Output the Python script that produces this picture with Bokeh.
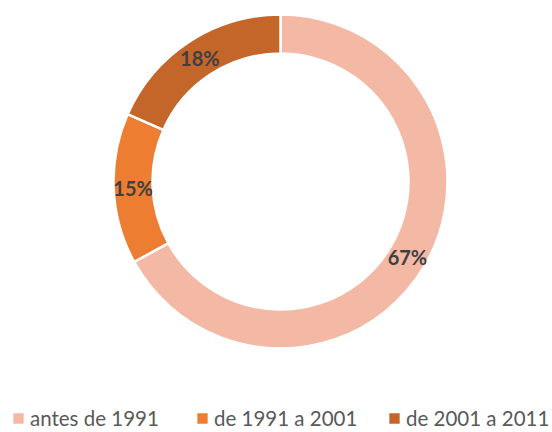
import math
from bokeh.plotting import figure
from bokeh.models import ColumnDataSource, Range1d, Legend, LegendItem
from bokeh.core.properties import value
from bokeh.embed import file_html
from bokeh.resources import INLINE

# ---- data ----
categories = ["antes de 1991", "de 1991 a 2001", "de 2001 a 2011"]
shares = [67.0, 14.6, 18.4]
colors = ["#F4B9A5", "#ED7D31", "#C4652A"]

# ---- layout ----
W, H = 552, 432
cx, cy = 280, 251
r_in, r_out = 128, 167
legend_x = [10, 194, 386]

total = sum(shares)
starts, ends, lx, ly, labels = [], [], [], [], []
cum = 0.0
for s in shares:
    a0 = math.pi / 2 - 2 * math.pi * (cum + s) / total
    a1 = math.pi / 2 - 2 * math.pi * cum / total
    starts.append(a0)
    ends.append(a1)
    mid = (a0 + a1) / 2
    rm = (r_in + r_out) / 2
    lx.append(cx + rm * math.cos(mid))
    ly.append(cy + rm * math.sin(mid))
    labels.append(f"{round(s / total * 100):.0f}%")
    cum += s

src = ColumnDataSource(dict(cat=categories, start=starts, end=ends, color=colors,
                            lx=lx, ly=ly, label=labels))

p = figure(width=W, height=H, x_range=Range1d(0, W), y_range=Range1d(0, H),
           output_backend="svg", toolbar_location=None, min_border=0)
p.axis.visible = False
p.grid.visible = False
p.outline_line_color = None
p.background_fill_color = "white"

wedges = p.annular_wedge(x=cx, y=cy, inner_radius=r_in, outer_radius=r_out,
                         start_angle="start", end_angle="end", fill_color="color",
                         line_color="white", line_width=2.5, source=src)

p.text(x="lx", y="ly", text="label", source=src, text_align="center",
       text_baseline="middle", text_font=value("Lato"), text_font_style="bold",
       text_font_size="20px", text_color="#404040")

for i, c in enumerate(categories):
    lg = Legend(items=[LegendItem(label=c, renderers=[wedges], index=i)],
                orientation="horizontal", location=(legend_x[i], 2),
                glyph_width=16, glyph_height=16, label_standoff=4,
                label_text_font="Lato", label_text_font_size="20.5px",
                label_text_color="#595959", label_height=16,
                padding=0, margin=0, border_line_color=None,
                background_fill_alpha=0)
    p.add_layout(lg)

open("out.html", "w").write(file_html(p, INLINE))
